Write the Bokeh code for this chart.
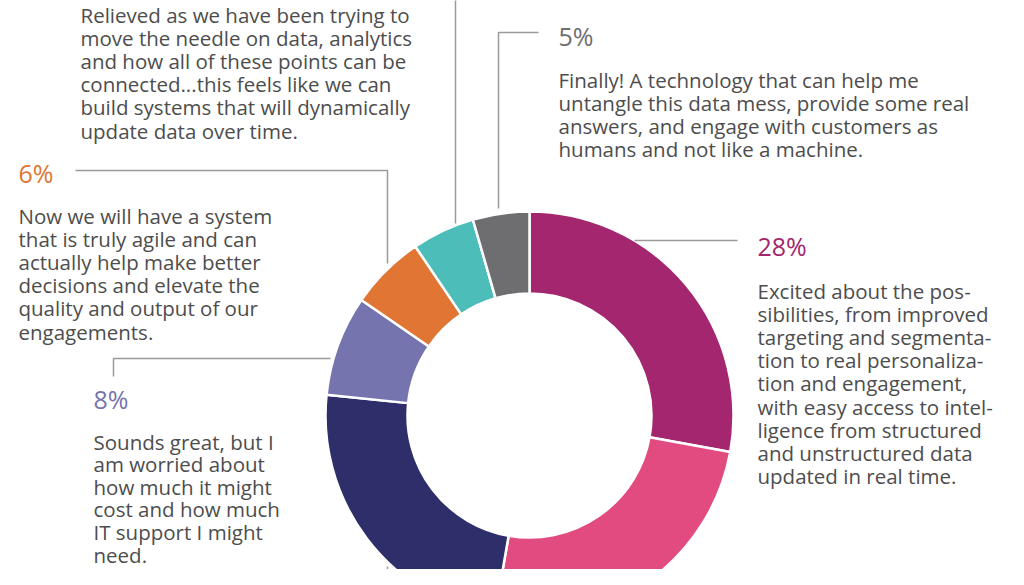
import numpy as np
from bokeh.plotting import figure
from bokeh.models import Range1d
from bokeh.core.properties import value
from bokeh.embed import file_html
from bokeh.resources import INLINE

# ---- data ----
segments = ["Excited", "Optimistic", "Cautious", "Worried about cost", "Agile", "Relieved", "Finally"]
shares = [28, 25, 24, 8, 6, 5, 4.5]
seg_colors = ["#A3266F", "#E14B80", "#2D2E6A", "#7574AE", "#E07534", "#4CBDB8", "#6E6E70"]

pct_texts = ["28%", "8%", "6%", "5%"]
pct_colors = ["#A3266F", "#7574AE", "#E07534", "#6E6E70"]

excited_lines = ["Excited about the pos-", "sibilities, from improved", "targeting and segmenta-",
                 "tion to real personaliza-", "tion and engagement,", "with easy access to intel-",
                 "ligence from structured", "and unstructured data", "updated in real time."]
sounds_lines = ["Sounds great, but I", "am worried about", "how much it might",
                "cost and how much", "IT support I might", "need."]
now_lines = ["Now we will have a system", "that is truly agile and can", "actually help make better",
             "decisions and elevate the", "quality and output of our", "engagements."]
relieved_lines = ["Relieved as we have been trying to", "move the needle on data, analytics",
                  "and how all of these points can be", "connected...this feels like we can",
                  "build systems that will dynamically", "update data over time."]
finally_lines = ["Finally! A technology that can help me", "untangle this data mess, provide some real",
                 "answers, and engage with customers as", "humans and not like a machine."]

# ---- layout (pixel space, y measured from top) ----
FW, FH = 1008, 569
def Y(y):
    return FH - y

p = figure(width=FW, height=FH, output_backend="svg", toolbar_location=None,
           x_range=Range1d(0, FW), y_range=Range1d(0, FH),
           x_axis_location=None, y_axis_location=None, min_border=0)
p.grid.visible = False
p.outline_line_color = None
p.background_fill_color = "white"
p.border_fill_color = "white"

# donut
cx, cy, r_in, r_out = 529, 415, 122, 204
frac = np.array(shares, dtype=float) / sum(shares)
cum = np.concatenate([[0], np.cumsum(frac)])
starts = np.pi / 2 - 2 * np.pi * cum[1:]
ends = np.pi / 2 - 2 * np.pi * cum[:-1]
p.annular_wedge(x=[cx] * len(shares), y=[Y(cy)] * len(shares), inner_radius=r_in, outer_radius=r_out,
                start_angle=starts, end_angle=ends, fill_color=seg_colors,
                line_color="white", line_width=2.5)

# connector lines
lc = "#9a9a9a"
lw = 1.5
conn = [
    ([498, 498, 538], [208, 32, 32]),      # 5%
    ([455, 455], [223, -5]),               # relieved
    ([387, 387, 75], [263, 170, 170]),     # 6%
    ([330, 113, 113], [358, 358, 376]),    # 8%
    ([634, 737], [240, 240]),              # 28%
    ([387, 387], [566, 590]),              # bottom
]
for xs, ys in conn:
    p.line(xs, [Y(v) for v in ys], line_color=lc, line_width=lw)

font = value("Open Sans")
body_color = "#4d4d4d"
body_size = "20.5px"

def block(lines, x, y0, gap=23.2):
    p.text(x=[x] * len(lines), y=[Y(y0 + i * gap) for i in range(len(lines))], text=lines,
           text_font=font, text_font_size=body_size, text_color=body_color,
           text_align="left", text_baseline="middle")

block(relieved_lines, 80, 14)
block(finally_lines, 558, 79)
block(now_lines, 18, 215)
block(sounds_lines, 93, 441, 22.6)
block(excited_lines, 757, 290)

pct_pos = [(757, 245), (93, 398), (18, 172), (558, 35)]
p.text(x=[a for a, b in pct_pos], y=[Y(b) for a, b in pct_pos], text=pct_texts,
       text_font=font, text_font_size="25px", text_color=pct_colors,
       text_align="left", text_baseline="middle")

open("out.html", "w").write(file_html(p, INLINE))
